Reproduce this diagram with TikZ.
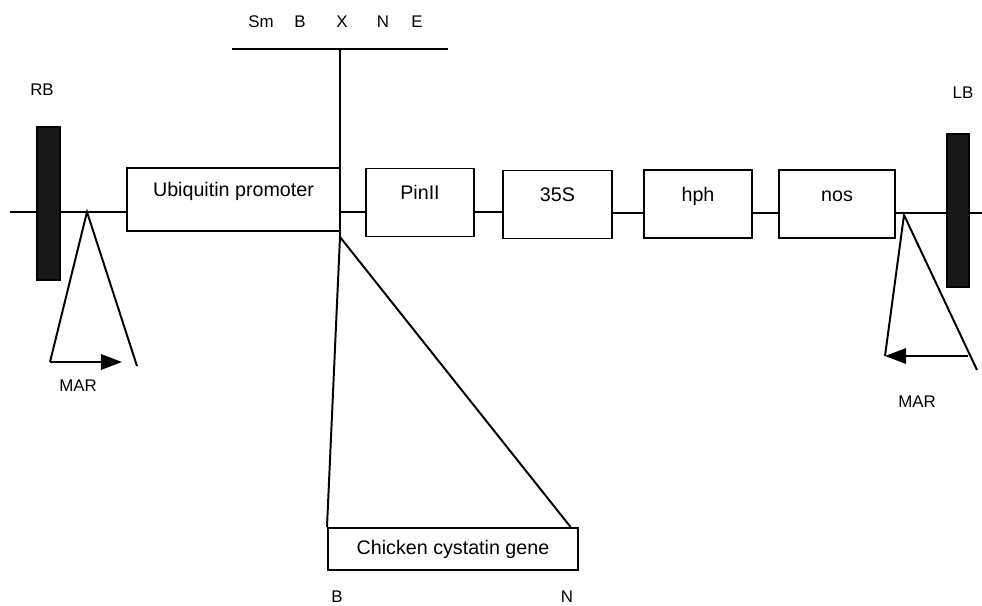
\documentclass[tikz,border=0pt]{standalone}
\usepackage{fontspec}
\setmainfont{Liberation Sans}
\usetikzlibrary{arrows.meta}

\begin{document}
\begin{tikzpicture}[x=0.025cm,y=-0.025cm,line width=1.4pt,>={Triangle[length=15pt,width=11pt]},
  box/.style={draw,font=\fontsize{14}{16}\selectfont,text height=9pt,text depth=13pt,minimum height=1.7cm},
  bar/.style={draw,fill=black!90,minimum width=0.57cm,minimum height=3.83cm,inner sep=0pt},
  lbl/.style={font=\fontsize{12}{14}\selectfont}]
\useasboundingbox (0,0) rectangle (982,606);
% backbone ends
\coordinate (l) at (10,212);
\coordinate (r) at (982,213);
% cassette
\node[box,minimum width=5.33cm,minimum height=1.58cm] (ubi) at (233.5,199.5) {Ubiquitin promoter};
\node[box,minimum width=2.7cm] (pin) at (420,202.5) {PinII};
\node[box,minimum width=2.72cm] (s35) at (557.5,204.5) {35S};
\node[box,minimum width=2.7cm] (hph) at (698,204) {hph};
\node[box,minimum width=2.9cm] (nos) at (837,204) {nos};
\draw (l) -- (ubi.west |- l);
\draw (ubi.east |- l) -- (pin.west |- l);
\draw (pin.east |- l) -- (s35.west |- l);
\draw (s35.east |- r) -- (hph.west |- r);
\draw (hph.east |- r) -- (nos.west |- r);
\draw (nos.east |- r) -- (r);
% borders
\node[bar] (rb) at (48.5,203.5) {};
\node[bar] (lb) at (958,210.5) {};
\node[lbl] (rbt) at (42,90) {RB};
\node[lbl] (lbt) at (963,93) {LB};
% MAR left
\coordinate (mla) at (87,212);
\coordinate (mlb) at (50,362);
\coordinate (mlc) at (137,366);
\coordinate (mld) at (122,362);
\draw (mlb) -- (mla) -- (mlc);
\draw[->] (mlb) -- (mld);
\node[lbl] (mlt) at (78,386) {MAR};
% MAR right
\coordinate (mra) at (904,215);
\coordinate (mrb) at (885,356);
\coordinate (mrc) at (977,370);
\coordinate (mrd) at (968,356);
\draw (mrb) -- (mra) -- (mrc);
\draw[->] (mrd) -- (mrb);
\node[lbl] (mrt) at (917,402) {MAR};
% cloning sites
\coordinate (sl) at (232,49);
\coordinate (sr) at (448,49);
\coordinate (sx) at (340,49);
\coordinate (cut) at (340,237);
\draw (sl) -- (sr);
\node[lbl] (sm) at (261,22) {Sm};
\node[lbl] (sb) at (300,22) {B};
\node[lbl] (sxt) at (342,22) {X};
\node[lbl] (sn) at (383,22) {N};
\node[lbl] (se) at (417,22) {E};
% insert
\node[draw,font=\fontsize{14}{16}\selectfont,minimum width=6.25cm,minimum height=1.05cm] (gene) at (453,549) {Chicken cystatin gene};
\draw (sx) -- (cut) -- (gene.north west);
\draw (cut) -- ([xshift=-6]gene.north east);
\node[lbl] (gb) at (337,597) {B};
\node[lbl] (gn) at (567,597) {N};
\end{tikzpicture}
\end{document}
